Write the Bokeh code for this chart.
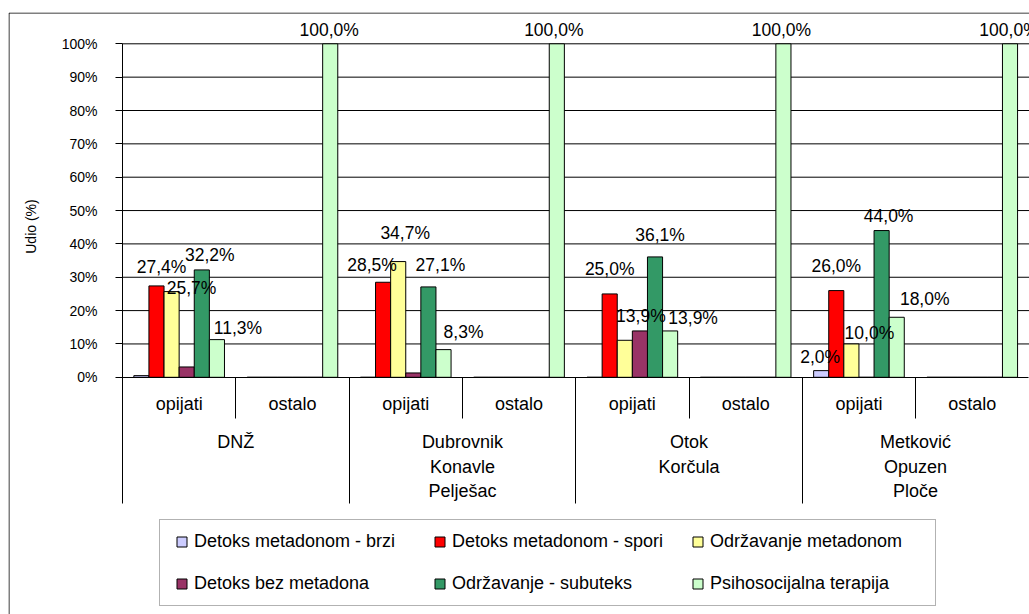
from bokeh.plotting import figure
from bokeh.models import (Range1d, LinearAxis, FixedTicker, PrintfTickFormatter,
                          ColumnDataSource, Legend, LegendItem)
from bokeh.core.properties import value
from bokeh.embed import file_html
from bokeh.resources import INLINE

# ---------------- data ----------------
groups = ["DNŽ", "Dubrovnik\nKonavle\nPelješac", "Otok\nKorčula", "Metković\nOpuzen\nPloče"]
subcats = ["opijati", "ostalo"]
series = ["Detoks metadonom - brzi", "Detoks metadonom - spori", "Održavanje metadonom",
          "Detoks bez metadona", "Održavanje - subuteks", "Psihosocijalna terapija"]

# values per sub-category slot: DNŽ/opijati, DNŽ/ostalo, Dubrovnik/opijati, ... (%)
brzi     = [0.5, 0, 0, 0, 0, 0, 2.0, 0]
spori    = [27.4, 0, 28.5, 0, 25.0, 0, 26.0, 0]
odrz_met = [25.7, 0, 34.7, 0, 11.1, 0, 10.0, 0]
bez_met  = [3.1, 0, 1.3, 0, 13.9, 0, 0, 0]
subuteks = [32.2, 0, 27.1, 0, 36.1, 0, 44.0, 0]
psiho    = [11.3, 100, 8.3, 100, 13.9, 100, 18.0, 100]
values = [brzi, spori, odrz_met, bez_met, subuteks, psiho]

y_ticks = [0, 10, 20, 30, 40, 50, 60, 70, 80, 90, 100]

# bars that carry a printed value label: (slot, series)
labelled = [(0, 1), (0, 2), (0, 4), (0, 5), (1, 5),
            (2, 1), (2, 2), (2, 4), (2, 5), (3, 5),
            (4, 1), (4, 3), (4, 4), (4, 5), (5, 5),
            (6, 0), (6, 1), (6, 2), (6, 4), (6, 5), (7, 5)]

# ---------------- styles ----------------
colors = ["#CCCCFF", "#FF0000", "#FFFF99", "#993366", "#339966", "#CCFFCC"]
# label offsets in px relative to bar centre / bar top (dy = upwards)
label_dx = [5, 20, 8, 21, -1,
            -11, 7, 12, 20, -3,
            0, 1, 5, 23, -2,
            -1, 0, 18, 7, 28, -1]
label_dy = [19, 4, 14.5, 11.5, 13.5,
            17, 29, 21.5, 18, 13.5,
            25, 15, 22, 13, 13.5,
            14, 25, 11, 15, 18.5, 13.5]

FONT = "Liberation Sans"
PX_X = 113.3     # px per sub-category
PX_Y = 3.335     # px per percent
W, H = 1029, 614
BORDER_L, BORDER_T = 8, 12
FRAME_H = H - BORDER_T
ZERO_FROM_TOP = 364.8
LEFT_PX = 114

n_series = len(series)
bar_w = 1.0 / (n_series + 1.5)
gap = 0.75 * bar_w

x0, x1 = -LEFT_PX / PX_X, (W - BORDER_L - LEFT_PX) / PX_X
y1 = ZERO_FROM_TOP / PX_Y
y0 = -(FRAME_H - ZERO_FROM_TOP) / PX_Y

p = figure(width=W, height=H, output_backend="svg", toolbar_location=None,
           x_range=Range1d(x0, x1), y_range=Range1d(y0, y1),
           x_axis_type=None, y_axis_type=None, min_border=0,
           min_border_left=BORDER_L, min_border_top=BORDER_T,
           outline_line_color=None, background_fill_color="white",
           border_fill_color="white")

# outer chart border (left & top, the rest is outside the picture)
ex = x0 + 0.5 / PX_X
ey = y1 - 0.5 / PX_Y
p.segment(x0=[ex, ex], y0=[y0, ey], x1=[ex, x1], y1=[ey, ey], line_color="black", line_width=1)

# horizontal gridlines
p.segment(x0=[0] * (len(y_ticks) - 1), y0=y_ticks[1:], x1=[x1] * (len(y_ticks) - 1),
          y1=y_ticks[1:], line_color="black", line_width=1)

n_slots = len(brzi)
items = []
for s in range(n_series):
    xs = [slot + gap + (s + 0.5) * bar_w for slot in range(n_slots)]
    src = ColumnDataSource(dict(x=xs, top=values[s]))
    p.vbar(x="x", top="top", bottom=0, width=bar_w, source=src,
           fill_color=colors[s], line_color="black", line_width=1)
    proxy = p.scatter(x="x", y="top", source=src, marker="square", size=10,
                      fill_color=colors[s], line_color="black", line_width=1, visible=False)
    items.append(LegendItem(label=series[s], renderers=[proxy]))

# value labels
lx, ly, lt = [], [], []
for slot, s in labelled:
    v = values[s][slot]
    lx.append(slot + gap + (s + 0.5) * bar_w)
    ly.append(v)
    lt.append(f"{v:.1f}".replace(".", ",") + "%")
lsrc = ColumnDataSource(dict(x=lx, y=ly, t=lt, dx=label_dx, dy=[-d for d in label_dy]))
p.text(x="x", y="y", text="t", x_offset="dx", y_offset="dy", source=lsrc,
       text_align="center", text_baseline="middle", text_color="black",
       text_font=value(FONT), text_font_size="17.5px")

# y axis
yax = LinearAxis(fixed_location=0, bounds=(-9.6, 100),
                 ticker=FixedTicker(ticks=y_ticks),
                 formatter=PrintfTickFormatter(format="%d%%"),
                 axis_label="Udio (%)", axis_label_standoff=20,
                 axis_label_text_font=FONT, axis_label_text_font_size="14px",
                 axis_label_text_font_style="normal", axis_label_text_color="black",
                 major_label_text_font=FONT, major_label_text_font_size="14px",
                 major_label_text_color="black", major_label_standoff=18,
                 major_tick_out=7, major_tick_in=0, major_tick_line_color="black",
                 minor_tick_line_color=None, axis_line_color="black")
p.add_layout(yax, "left")

# sub-category axis (minor ticks = short separators)
SUB_SEP = 41
sub_ticks = [i + 0.5 for i in range(n_slots)]
sub_ax = LinearAxis(fixed_location=0, bounds=(0, n_slots),
                    ticker=FixedTicker(ticks=sub_ticks, minor_ticks=[1, 3, 5, 7]),
                    major_label_overrides={t: subcats[i % 2] for i, t in enumerate(sub_ticks)},
                    major_tick_out=0, major_tick_in=0, major_tick_line_color=None,
                    minor_tick_out=SUB_SEP, minor_tick_in=0, minor_tick_line_color="black",
                    major_label_standoff=17 - SUB_SEP, major_label_text_font=FONT,
                    major_label_text_font_size="18px", major_label_text_color="black",
                    axis_line_color="black")
p.add_layout(sub_ax, "below")

# group axis (minor ticks = long separators)
GRP_SEP = 126
grp_ticks = [1, 3, 5, 7]
grp_ax = LinearAxis(fixed_location=0, bounds=(0, n_slots),
                    ticker=FixedTicker(ticks=grp_ticks, minor_ticks=[0, 2, 4, 6]),
                    major_label_overrides={t: groups[i] for i, t in enumerate(grp_ticks)},
                    major_tick_out=0, major_tick_in=0, major_tick_line_color=None,
                    minor_tick_out=GRP_SEP, minor_tick_in=0, minor_tick_line_color="black",
                    major_label_standoff=55 - GRP_SEP, major_label_text_font=FONT,
                    major_label_text_font_size="18px", major_label_text_color="black",
                    major_label_text_line_height=1.22, axis_line_color=None)
p.add_layout(grp_ax, "below")

legend = Legend(items=items, location=(151, 8), orientation="horizontal", ncols=3,
                glyph_width=25, glyph_height=25, label_standoff=0, label_width=216,
                label_height=25, spacing=17, padding=9, margin=0,
                border_line_color="#666666", border_line_width=1.5,
                background_fill_color="white", background_fill_alpha=1.0,
                label_text_font=FONT, label_text_font_size="18px", label_text_color="black")
p.add_layout(legend)

open("out.html", "w").write(file_html(p, INLINE))
